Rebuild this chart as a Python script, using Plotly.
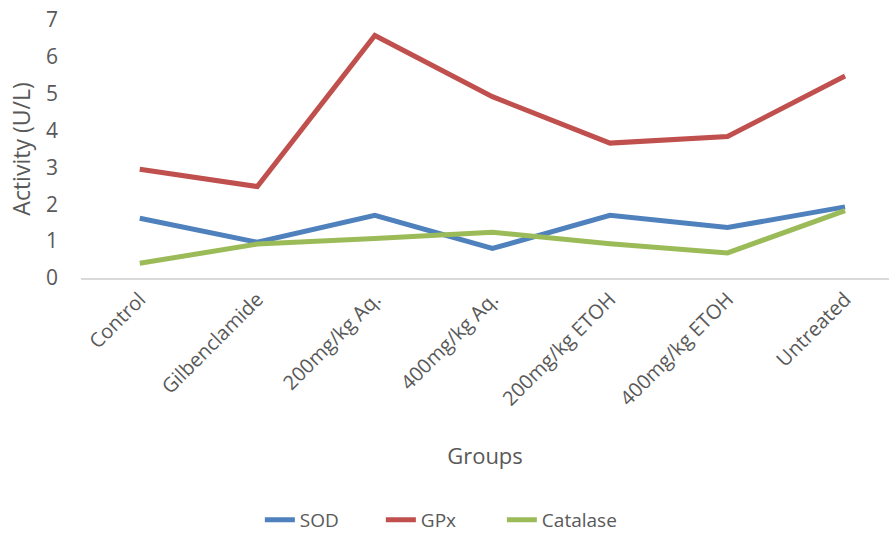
import plotly.graph_objects as go

groups = ["Control", "Gilbenclamide", "200mg/kg Aq.", "400mg/kg Aq.",
          "200mg/kg ETOH", "400mg/kg ETOH", "Untreated"]
sod = [1.62, 0.97, 1.70, 0.80, 1.70, 1.37, 1.93]
gpx = [2.95, 2.48, 6.58, 4.92, 3.66, 3.84, 5.48]
catalase = [0.40, 0.92, 1.07, 1.24, 0.93, 0.68, 1.83]

series = [("SOD", sod, "#4F81BD"), ("GPx", gpx, "#C0504D"), ("Catalase", catalase, "#9BBB59")]

fig = go.Figure()
for name, vals, col in series:
    fig.add_trace(go.Scatter(x=groups, y=vals, name=name, mode="lines",
                             line=dict(color=col, width=5)))

font = "Open Sans, sans-serif"
fig.update_layout(
    width=889, height=539,
    margin=dict(l=81, r=0, t=20, b=254),
    plot_bgcolor="white", paper_bgcolor="white",
    font=dict(family=font, color="#595959", size=18),
    showlegend=True,
    legend=dict(orientation="h", x=0.446, xanchor="center", y=-0.94, yanchor="middle",
                font=dict(size=19, color="#595959"), entrywidth=76, entrywidthmode="pixels"),
    xaxis=dict(type="category", range=[-0.5, 6.374], tickangle=-45, automargin=False,
               showline=True, linecolor="#D9D9D9", linewidth=1.5,
               showgrid=False, ticks="", tickfont=dict(size=20, color="#595959"),
               title=dict(text="Groups", font=dict(size=22, color="#595959"), standoff=38)),
    yaxis=dict(range=[0, 7], dtick=1, showgrid=False, zeroline=False, showline=False,
               automargin=False,
               ticks="", tickfont=dict(size=21, color="#595959"), ticklabelstandoff=22,
               title=dict(text="Activity (U/L)", font=dict(size=23, color="#595959"), standoff=8)),
)
fig.write_html("out.html")
